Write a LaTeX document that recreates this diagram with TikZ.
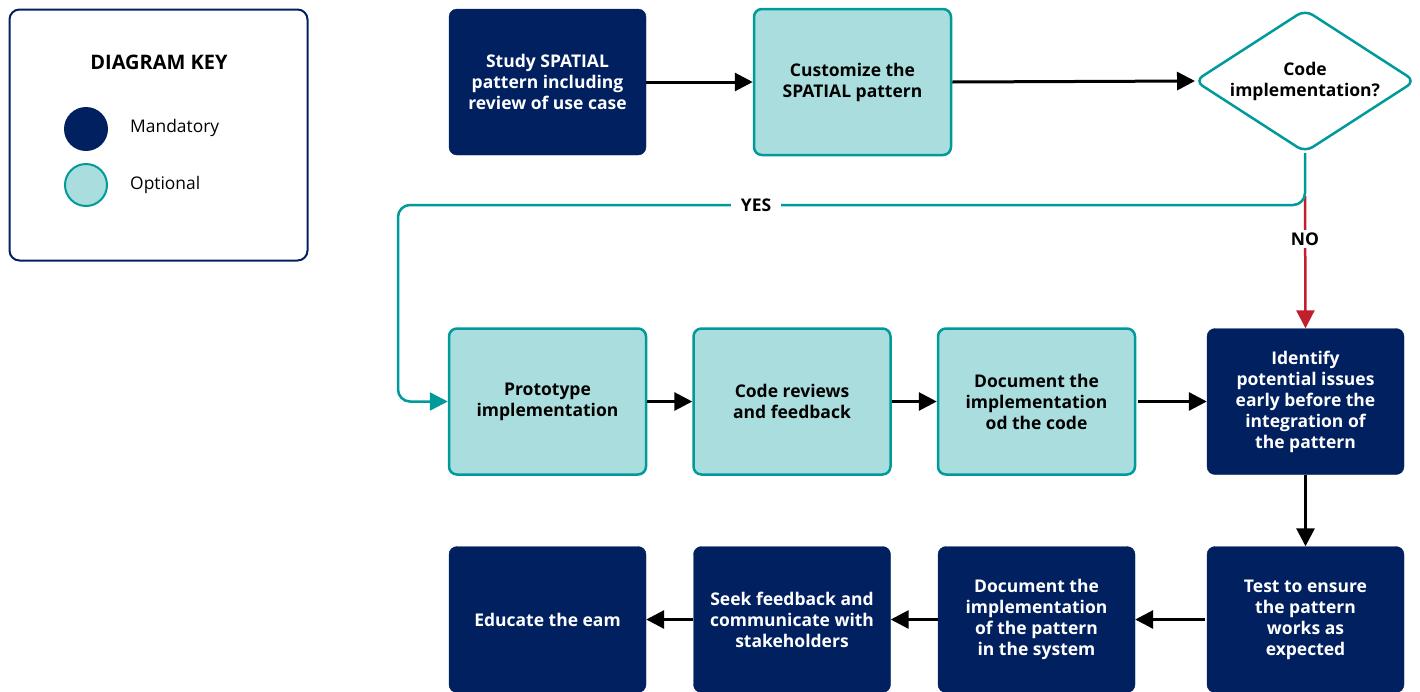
\documentclass[tikz,border=0pt]{standalone}
\usepackage{fontspec}
\setmainfont{Open Sans}
\usetikzlibrary{arrows.meta}
\definecolor{navy}{HTML}{01205F}
\definecolor{lightteal}{HTML}{AADDDD}
\definecolor{tealline}{HTML}{009A9A}
\definecolor{noRed}{HTML}{C01F2B}
\tikzset{
  x=1pt, y=-1pt,
  boxfont/.style={font=\fontsize{17.5}{21}\selectfont\bfseries},
  base/.style={rectangle, rounded corners=8pt, minimum width=197pt, minimum height=146pt,
    inner sep=0pt, align=center, boxfont},
  mandatory/.style={base, fill=navy, draw=navy, text=white},
  optional/.style={base, fill=lightteal, draw=tealline, line width=2.5pt, text=black},
  flow/.style={line width=3pt, -{Triangle[length=18pt,width=18pt]}},
  yesline/.style={line width=2.5pt, draw=tealline, rounded corners=12pt,
    -{Triangle[length=18pt,width=18pt,fill=tealline]}},
  noline/.style={line width=2.5pt, draw=noRed, -{Triangle[length=18pt,width=18pt,fill=noRed]}},
  lbl/.style={fill=white, inner xsep=10pt, inner ysep=3pt, font=\fontsize{17.5}{20}\selectfont\bfseries}
}
\begin{document}
\begin{tikzpicture}
\useasboundingbox (0,0) rectangle (1420,691);
\clip (0,0) rectangle (1420,691);

% legend
\node[draw=navy, line width=2pt, rounded corners=10pt, minimum width=298pt, minimum height=251pt,
  inner sep=0pt] (key) at (158.5,135) {};
\node[font=\fontsize{20}{24}\selectfont\bfseries] (keytitle) at (159,62) {DIAGRAM KEY};
\node[circle, fill=navy, minimum size=44pt, inner sep=0pt] (kman) at (86,129) {};
\node[circle, fill=lightteal, draw=tealline, line width=2pt, minimum size=42pt, inner sep=0pt] (kopt) at (86,185) {};
\node[anchor=west, inner sep=0pt, font=\fontsize{17.4}{20}\selectfont] (tman) at (130,128) {Mandatory};
\node[anchor=west, inner sep=0pt, font=\fontsize{17.4}{20}\selectfont] (topt) at (130,185) {Optional};

% top row
\node[mandatory] (study) at (547.5,82) {Study SPATIAL\\pattern including\\review of use case};
\node[optional] (custom) at (852.5,82) {Customize the\\SPATIAL pattern};

% decision: rounded diamond drawn around its label
\coordinate (decW) at (1195,81);
\coordinate (decN) at (1305,10);
\coordinate (decE) at (1415,81);
\coordinate (decS) at (1305,152);
\draw[tealline, line width=2.5pt, rounded corners=9pt, fill=white]
  (decW) -- (decN) -- (decE) -- (decS) -- cycle;
\node[align=center, boxfont] (dec) at (1305,81) {Code\\implementation?};

% middle row
\node[optional] (proto) at (547.5,401.5) {Prototype\\implementation};
\node[optional] (review) at (792,401.5) {Code reviews\\and feedback};
\node[optional] (doccode) at (1036.5,401.5) {Document the\\implementation\\od the code};
\node[mandatory] (ident) at (1305.5,401.5) {Identify\\potential issues\\early before the\\integration of\\the pattern};

% bottom row
\node[mandatory] (test) at (1305.5,619.5) {Test to ensure\\the pattern\\works as\\expected};
\node[mandatory] (docpat) at (1036.5,619.5) {Document the\\implementation\\of the pattern\\in the system};
\node[mandatory] (seek) at (792,619.5) {Seek feedback and\\communicate with\\stakeholders};
\node[mandatory] (edu) at (547.5,619.5) {Educate the eam};

% connectors
\draw[flow] (study.east) -- (custom.west);
\draw[flow] (custom.east) -- (decW);
\draw[flow] (proto.east) -- (review.west);
\draw[flow] (review.east) -- (doccode.west);
\draw[flow] ([xshift=2pt]doccode.east) -- (ident.west);
\draw[flow] (ident.south) -- (test.north);
\draw[flow] ([xshift=-2pt]test.west) -- (docpat.east);
\draw[flow] (docpat.west) -- (seek.east);
\draw[flow] (seek.west) -- (edu.east);

% NO branch
\coordinate (split) at (1305,196);
\draw[noline] (split) -- (ident.north);
\node[lbl] (nolbl) at (1305,239) {NO};

% YES branch
\coordinate (yturn) at (398,205);
\draw[yesline] ([yshift=-1pt]decS) |- (yturn) |- (proto.west);
\node[lbl] (yeslbl) at (756,205) {YES};
\end{tikzpicture}
\end{document}
